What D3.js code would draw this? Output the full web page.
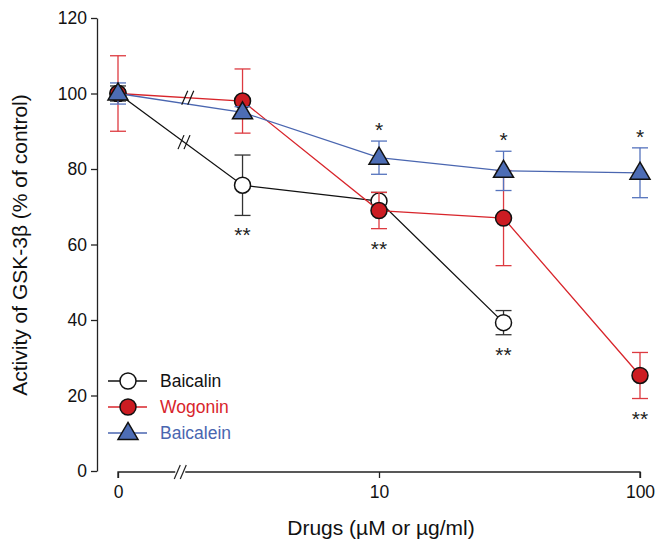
<!DOCTYPE html>
<html><head><meta charset="utf-8">
<script src="https://cdn.jsdelivr.net/npm/d3@7"></script>
<style>body{margin:0;background:#fff}svg{display:block}text{font-family:"Liberation Sans",Arial,sans-serif}</style>
</head><body>
<script>
const doses = [0, 3, 10, 30, 100];
const doseTickLabels = ["0", "10", "100"];
const yTicks = [0, 20, 40, 60, 80, 100, 120];
const seriesNames = ["Baicalin", "Wogonin", "Baicalein"];
const baicalinMean = [100, 75.7, 71.5, 39.3, null];
const baicalinErr = [2, 8, 2.3, 3.2, null];
const wogoninMean = [100, 98, 69, 67, 25.3];
const wogoninErr = [10, 8.5, 4.8, 12.6, 6.1];
const baicaleinMean = [100, 95, 83, 79.5, 79];
const baicaleinErr = [2.8, 1.5, 4.4, 5.2, 6.6];
const baicalinStars = ["", "**", "", "**", ""];
const wogoninStars = ["", "", "**", "", "**"];
const baicaleinStars = ["", "", "*", "*", "*"];

const W = 655, H = 546;
const svg = d3.select("body").append("svg").attr("width", W).attr("height", H);
const x = d3.scaleLog().domain([1, 100]).range([118, 640]);
const xd = d => x(d === 0 ? 1 : d);
const y = d3.scaleLinear().domain([0, 120]).range([471, 18]);

// Y axis
const ya = svg.append("g").attr("transform", "translate(97,0)")
  .call(d3.axisLeft(y).tickValues(yTicks).tickSize(6).tickSizeOuter(0).tickPadding(4));
ya.select(".domain").attr("stroke", "#222").attr("stroke-width", 1.3);
ya.selectAll(".tick line").attr("stroke", "#222").attr("stroke-width", 1.3);
ya.selectAll("text").style("font-size", "17.5px").attr("fill", "#111");

// X axis
const xa = svg.append("g").attr("transform", "translate(0,472)")
  .call(d3.axisBottom(x).tickValues([1, 10, 100]).tickFormat((d, i) => doseTickLabels[i]).tickSize(6).tickSizeOuter(0).tickPadding(8));
xa.select(".domain").attr("stroke", "#222").attr("stroke-width", 1.3).attr("d", `M${x(1)},6V0H${x(100)}V6`);
xa.selectAll(".tick line").attr("stroke", "#222").attr("stroke-width", 1.3);
xa.selectAll("text").style("font-size", "17.5px").attr("fill", "#111");

function brk(cx, cy, col) {
  const g = svg.append("g");
  [-3, 3].forEach(o => {
    g.append("line").attr("x1", cx + o - 3).attr("y1", cy + 7).attr("x2", cx + o + 3).attr("y2", cy - 7)
      .attr("stroke", col).attr("stroke-width", 1.2);
  });
}
// break mark on x axis
const bx = xd(0) + (x(3) - xd(0)) * 0.5;
svg.append("rect").attr("x", bx - 5).attr("y", 469).attr("width", 10).attr("height", 6).attr("fill", "#fff");
brk(bx, 472, "#222");

// Axis titles
svg.append("text").attr("x", 381).attr("y", 535).attr("text-anchor", "middle")
  .style("font-size", "21px").attr("fill", "#111").text("Drugs (µM or µg/ml)");
svg.append("text").attr("transform", "translate(27,245) rotate(-90)").attr("text-anchor", "middle")
  .style("font-size", "21px").attr("fill", "#111").text("Activity of GSK-3β (% of control)");

const series = [
  {name: seriesNames[0], mean: baicalinMean, err: baicalinErr, stars: baicalinStars, line: "#111", bar: "#333", fill: "#fff", shape: "circle", text: "#111"},
  {name: seriesNames[1], mean: wogoninMean, err: wogoninErr, stars: wogoninStars, line: "#d8252b", bar: "#dd3a40", fill: "#cc1c22", shape: "circle", text: "#d8252b"},
  {name: seriesNames[2], mean: baicaleinMean, err: baicaleinErr, stars: baicaleinStars, line: "#4a66b0", bar: "#5573bd", fill: "#4d6db5", shape: "tri", text: "#4a66b0"}
];

function marker(g, s, cx, cy) {
  if (s.shape === "circle") {
    g.append("circle").attr("cx", cx).attr("cy", cy).attr("r", 8).attr("fill", s.fill).attr("stroke", "#111").attr("stroke-width", 1.5);
  } else {
    const h = 17, w = 20;
    g.append("path").attr("d", `M${cx},${cy - h * 0.62}L${cx + w / 2},${cy + h * 0.38}L${cx - w / 2},${cy + h * 0.38}Z`)
      .attr("fill", s.fill).attr("stroke", "#111").attr("stroke-width", 1.5).attr("stroke-linejoin", "miter");
  }
}

series.forEach(s => {
  const g = svg.append("g");
  const pts = doses.map((d, i) => ({d, v: s.mean[i], e: s.err[i], st: s.stars[i]})).filter(p => p.v != null);
  g.append("path").attr("d", d3.line().x(p => xd(p.d)).y(p => y(p.v))(pts))
    .attr("fill", "none").attr("stroke", s.line).attr("stroke-width", 1.3);
  // error bars
  pts.forEach(p => {
    const cx = xd(p.d), t = y(p.v + p.e), b = y(p.v - p.e);
    g.append("line").attr("x1", cx).attr("x2", cx).attr("y1", t).attr("y2", b).attr("stroke", s.bar).attr("stroke-width", 1.3);
    [t, b].forEach(yy => g.append("line").attr("x1", cx - 8).attr("x2", cx + 8).attr("y1", yy).attr("y2", yy).attr("stroke", s.bar).attr("stroke-width", 1.3));
  });
  pts.forEach(p => marker(g, s, xd(p.d), y(p.v)));
});

// line break marks on first segment
const b0 = series[0], b1 = series[1];
function along(s, f) {
  const x0 = xd(0), x1 = x(3);
  const y0 = y(s.mean[0]), y1 = y(s.mean[1]);
  return [x0 + (x1 - x0) * f, y0 + (y1 - y0) * f];
}
let p = along(b0, 0.53); brk(p[0], p[1], "#111");
p = along(b1, 0.56); brk(p[0], p[1], "#111");

// significance stars
series.forEach(s => {
  doses.forEach((d, i) => {
    const st = s.stars[i];
    if (!st) return;
    const v = s.mean[i], e = s.err[i];
    let yy;
    if (st === "*") yy = y(v + e) - 4;
    else yy = y(v - e) + 27;
    svg.append("text").attr("x", xd(d)).attr("y", yy).attr("text-anchor", "middle")
      .style("font-size", "21px").attr("fill", "#222").text(st);
  });
});

// legend
const lg = svg.append("g");
series.forEach((s, i) => {
  const ly = 381 + i * 26;
  lg.append("line").attr("x1", 108).attr("x2", 147).attr("y1", ly).attr("y2", ly).attr("stroke", s.line).attr("stroke-width", 1.3);
  marker(lg, s, 128, ly);
  lg.append("text").attr("x", 160).attr("y", ly + 6).style("font-size", "17.5px").attr("fill", s.text).text(s.name);
});
</script>
</body></html>
